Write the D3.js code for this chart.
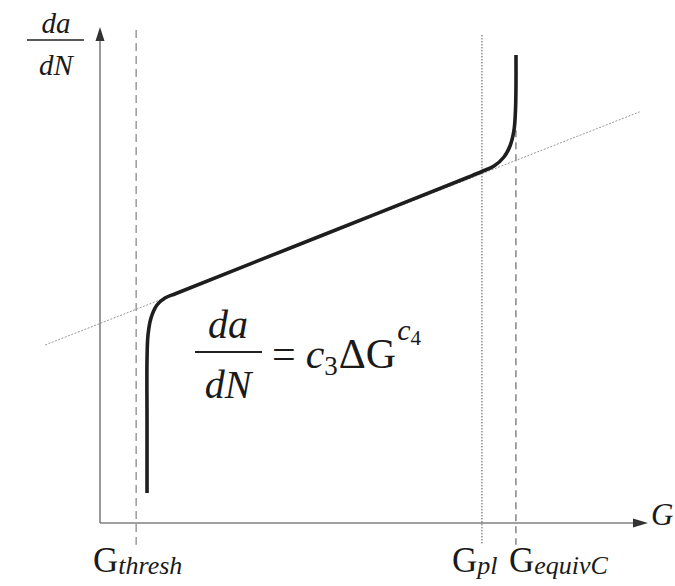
<!DOCTYPE html>
<html>
<head>
<meta charset="utf-8">
<script src="https://cdn.jsdelivr.net/npm/d3@7"></script>
<style>
  body { margin: 0; background: #fff; }
  svg { display: block; }
</style>
</head>
<body>
<div id="chart"></div>
<script>
const width = 675;
const height = 586;

// crack growth curve, arbitrary log units (0..100 on both axes)
const curveX = [8.58, 8.58, 8.58, 8.76, 9.31, 10.40, 11.86, 13.87, 40.7, 67.52, 69.71, 71.90, 73.72, 74.82, 75.55, 75.82, 75.91, 75.91];
const curveY = [6.05, 20.77, 32.86, 37.90, 41.33, 43.95, 45.36, 46.27, 58.07, 69.86, 70.87, 71.98, 73.79, 76.01, 79.23, 83.27, 88.31, 94.35];

// Paris law extension line
const powerX = [-10.0, 98.5];
const powerY = [35.9, 82.9];

// reference levels on the G axis
const refKeys = ["thresh", "pl", "equivC"];
const refX = [6.6, 69.7, 75.9];
const refTop = [99.4, 98.4, 79.2];
const refBottom = -4.4;

const x = d3.scaleLinear().domain([0, 100]).range([100, 648]);
const y = d3.scaleLinear().domain([0, 100]).range([523, 27]);

const svg = d3.select("#chart").append("svg")
  .attr("width", width)
  .attr("height", height)
  .attr("fill", "#1a1a1a");

const axisColor = "#808080";

// axes
svg.append("line")
  .attr("x1", x(0)).attr("y1", y(0))
  .attr("x2", x(100) - 12).attr("y2", y(0))
  .attr("stroke", axisColor).attr("stroke-width", 1.6);
svg.append("path")
  .attr("d", `M${x(100)},${y(0)} L${x(100) - 15},${y(0) - 4.5} L${x(100) - 15},${y(0) + 4.5} Z`)
  .attr("fill", "#333");

svg.append("line")
  .attr("x1", x(0)).attr("y1", y(0))
  .attr("x2", x(0)).attr("y2", y(100) + 10)
  .attr("stroke", axisColor).attr("stroke-width", 1.6);
svg.append("path")
  .attr("d", `M${x(0)},${y(100)} L${x(0) - 4.5},${y(100) + 14} L${x(0) + 4.5},${y(100) + 14} Z`)
  .attr("fill", "#333");

// reference lines
const refStyle = {
  thresh: { stroke: "#9a9a9a", width: 1.5, dash: "8,5" },
  pl: { stroke: "#555", width: 1, dash: "1.5,1.5" },
  equivC: { stroke: "#666", width: 1.2, dash: "7,5" }
};
refKeys.forEach((k, i) => {
  const s = refStyle[k];
  svg.append("line")
    .attr("x1", x(refX[i])).attr("x2", x(refX[i]))
    .attr("y1", y(refTop[i])).attr("y2", y(refBottom))
    .attr("stroke", s.stroke)
    .attr("stroke-width", s.width)
    .attr("stroke-dasharray", s.dash);
});

// power-law line
svg.append("line")
  .attr("x1", x(powerX[0])).attr("y1", y(powerY[0]))
  .attr("x2", x(powerX[1])).attr("y2", y(powerY[1]))
  .attr("stroke", "#999")
  .attr("stroke-width", 1)
  .attr("stroke-dasharray", "2,1.5");

// main curve
const line = d3.line()
  .x(d => x(d[0]))
  .y(d => y(d[1]))
  .curve(d3.curveCatmullRom.alpha(0.5));

svg.append("path")
  .datum(curveX.map((v, i) => [v, curveY[i]]))
  .attr("d", line)
  .attr("fill", "none")
  .attr("stroke", "#1e1e1e")
  .attr("stroke-width", 3.6);

const txt = (sel) => sel.append("text").attr("font-family", "Liberation Serif");

// y-axis label da/dN
const yl = svg.append("g").attr("transform", "translate(56,0)");
txt(yl).attr("x", 0).attr("y", 33).attr("text-anchor", "middle")
  .attr("font-style", "italic").attr("font-size", 29).text("da");
yl.append("line").attr("x1", -29).attr("x2", 28).attr("y1", 40).attr("y2", 40)
  .attr("stroke", "#222").attr("stroke-width", 1.6);
txt(yl).attr("x", 0).attr("y", 75).attr("text-anchor", "middle")
  .attr("font-style", "italic").attr("font-size", 29).text("dN");

// x-axis label
txt(svg).attr("x", 651).attr("y", 525)
  .attr("font-style", "italic").attr("font-size", 31).text("G");

// reference labels
const refLabelX = { thresh: 93, pl: 452, equivC: 509 };
refKeys.forEach(k => {
  const t = txt(svg).attr("x", refLabelX[k]).attr("y", 572)
    .attr("font-size", 35);
  t.append("tspan").text("G");
  t.append("tspan").attr("dy", 2).attr("font-style", "italic")
    .attr("font-size", 26).text(k);
});

// formula
const fm = svg.append("g");
txt(fm).attr("x", 228).attr("y", 338).attr("text-anchor", "middle")
  .attr("font-style", "italic").attr("font-size", 40).text("da");
fm.append("line").attr("x1", 195).attr("x2", 262).attr("y1", 352).attr("y2", 352)
  .attr("stroke", "#222").attr("stroke-width", 2);
txt(fm).attr("x", 228).attr("y", 398).attr("text-anchor", "middle")
  .attr("font-style", "italic").attr("font-size", 40).text("dN");
const rhs = txt(fm).attr("x", 272).attr("y", 368).attr("font-size", 42);
rhs.append("tspan").text("=");
rhs.append("tspan").attr("dx", 10).attr("font-style", "italic").text("c");
rhs.append("tspan").attr("dy", 7).attr("font-size", 27).text("3");
rhs.append("tspan").attr("dy", -7).attr("dx", 1).text("ΔG");
rhs.append("tspan").attr("dy", -28).attr("dx", 1).attr("font-style", "italic").attr("font-size", 30).text("c");
rhs.append("tspan").attr("dy", 5).attr("font-size", 21).text("4");
</script>
</body>
</html>
